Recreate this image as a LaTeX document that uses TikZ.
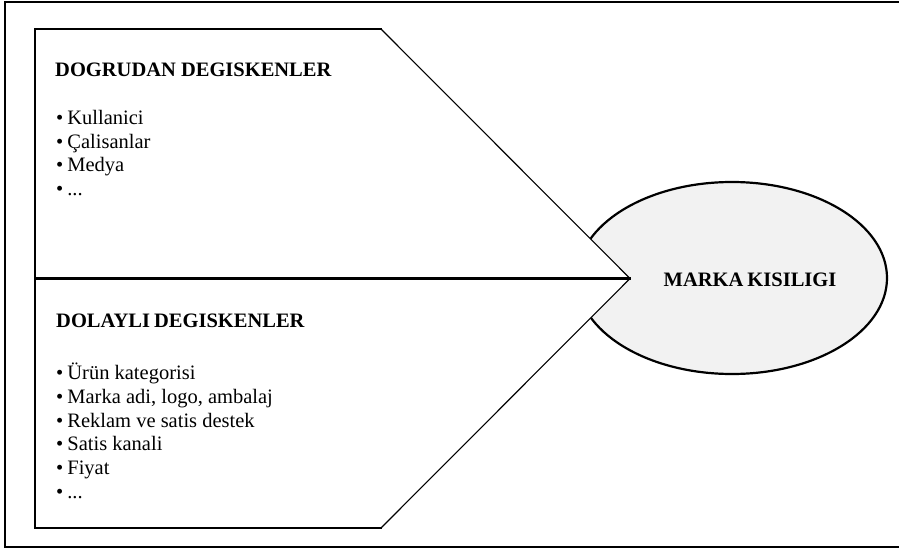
\documentclass[tikz,border=0pt]{standalone}
\usepackage{fontspec}
\setmainfont{Liberation Serif}
\usetikzlibrary{shapes.geometric}
\definecolor{ellfill}{HTML}{F2F2F2}
\tikzset{
  thick line/.style={line width=2.4pt, line cap=rect},
  thin line/.style={line width=1.1pt},
  txt/.style={anchor=base west, inner sep=0pt, font=\fontsize{20.5}{24}\selectfont},
  title/.style={txt, font=\fontsize{20.5}{24}\selectfont\bfseries},
}
\begin{document}
\begin{tikzpicture}[x=1pt,y=-1pt]
\useasboundingbox (0,0) rectangle (899,551);
% outer frame (open on the right)
\draw[thick line] (899,2) -- (5,2) -- (5,547) -- (899,547);
% ellipse
\node[ellipse, draw, line width=2.2pt, fill=ellfill, minimum width=310pt, minimum height=192pt, inner sep=0pt] (marka) at (732,278) {};
\node[inner sep=0pt, font=\fontsize{20.5}{24}\selectfont\bfseries] (markatxt) at (750,280) {MARKA\hspace{-1pt} KISILIGI};
% arrow-shaped panel
\coordinate (tl) at (35,29);
\coordinate (tr) at (381,29);
\coordinate (tip) at (630,278.5);
\coordinate (br) at (381,528);
\coordinate (bl) at (35,528);
\coordinate (ml) at (35,278.5);
\fill[white] (tl) -- (tr) -- (tip) -- (br) -- (bl) -- cycle;
\draw[thin line] (tr) -- (tip) -- (br);
\draw[thick line] (tr) -- (tl) -- (bl) -- (br);
\draw[thick line] (ml) -- (tip);
% upper texts
\node[title] (t1) at (55,77) {DOGRUDAN DEGISKENLER};
\node[txt] (a1) at (56,124) {•\hspace{4pt}Kullanici};
\node[txt] (a2) at (56,148) {•\hspace{4pt}Çalisanlar};
\node[txt] (a3) at (56,171.5) {•\hspace{4pt}Medya};
\node[txt] (a4) at (56,195) {•\hspace{4pt}...};
% lower texts
\node[title] (t2) at (56,327) {DOLAYLI\hspace{-1pt} DEGISKENLER};
\node[txt] (b1) at (56,379) {•\hspace{4pt}Ürün kategorisi};
\node[txt] (b2) at (56,403) {•\hspace{4pt}Marka adi, logo, ambalaj};
\node[txt] (b3) at (56,427) {•\hspace{4pt}Reklam ve satis destek};
\node[txt] (b4) at (56,450.5) {•\hspace{4pt}Satis kanali};
\node[txt] (b5) at (56,474) {•\hspace{4pt}Fiyat};
\node[txt] (b6) at (56,498) {•\hspace{4pt}...};
\end{tikzpicture}
\end{document}
